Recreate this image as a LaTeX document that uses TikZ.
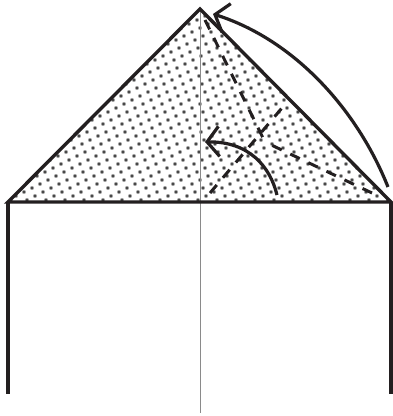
\documentclass[tikz,border=0pt]{standalone}
\usepackage{xcolor}
\usetikzlibrary{arrows.meta,calc,bending}
\definecolor{inkblack}{HTML}{231F20}
\definecolor{axisgray}{HTML}{8A8A8A}
\tikzset{
  roofline/.style={line width=3.4pt,inkblack},
  foldline/.style={line width=3pt,inkblack,dash pattern=on 10.5pt off 9.5pt},
  turnarrow/.style={line width=3.2pt,inkblack,-{Straight Barb[length=12pt,width=30pt,line width=3.2pt]}},
}
\begin{document}
\begin{tikzpicture}[x=1pt,y=1pt]
  \useasboundingbox (0,0) rectangle (393,416);
  \coordinate (apex) at (200,407);
  \coordinate (left) at (8,214);
  \coordinate (right) at (391,214);
  \coordinate (cross) at (265,274);
  % stipple
  \begin{scope}
    \clip (apex) -- (left) -- (right) -- cycle;
    \foreach \i in {0,...,50}{
      \foreach \j in {-25,...,25}{
        \pgfmathsetmacro{\px}{\i*8-\j*3}
        \pgfmathsetmacro{\py}{\i*4+\j*8}
        \pgfmathparse{(\py>-3 && \py<198-abs(\px-200)) ? 1 : 0}
        \ifnum\pgfmathresult=1
          \fill[black!35] (\px,212+\py) circle (2.1);
          \fill[black!85] (\px,212+\py) circle (1.2);
        \fi
      }
    }
  \end{scope}
  \draw[axisgray,line width=1pt] (apex) -- (200,3);
  \draw[roofline,line join=miter] (left) -- (apex) -- (right) -- cycle;
  \draw[roofline] (left) -- (8,22);
  \draw[roofline] (right) -- (391,22);
  % folds
  \draw[foldline] (205,396) -- (cross);
  \draw[foldline] (372,223) -- (cross);
  \draw[foldline] (210,223) -- (287,314);
  % arrows
  \draw[turnarrow] (388,229) .. controls (357,307) and (293,378) .. (213,402);
  \draw[turnarrow] (277,221) .. controls (270,250) and (248,276) .. (205,274);
\end{tikzpicture}
\end{document}
